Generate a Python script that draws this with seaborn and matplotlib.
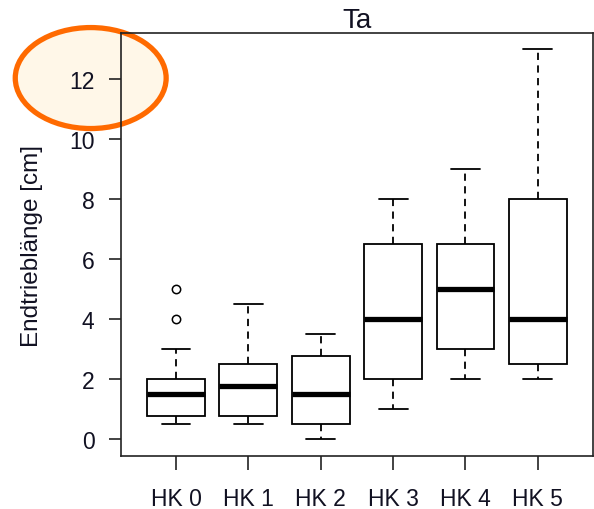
import seaborn as sns
import matplotlib.pyplot as plt
import numpy as np
import pandas as pd
from matplotlib.patches import Ellipse

hk0 = [0.5, 0.5, 0.75, 0.75, 1, 1.5, 1.5, 1.5, 2, 2, 3, 4, 5]
hk1 = [0.5, 0.75, 0.75, 1.5, 1.75, 2, 2.5, 3, 4.5]
hk2 = [0, 0.5, 0.5, 1, 1.5, 2, 2.75, 3, 3.5]
hk3 = [1, 2, 2, 3, 4, 5, 6.5, 7, 8]
hk4 = [2, 3, 3, 4, 5, 6, 6.5, 8, 9]
hk5 = [2, 2.5, 2.5, 3, 4, 6, 8, 10, 13]

groups = ["HK 0", "HK 1", "HK 2", "HK 3", "HK 4", "HK 5"]
y_ticks = [0, 2, 4, 6, 8, 10, 12]

# long table for seaborn
rows = []
for g, vals in zip(groups, [hk0, hk1, hk2, hk3, hk4, hk5]):
    for v in vals:
        rows.append({"HK": g, "len": v})
df = pd.DataFrame(rows)

sns.set_style("ticks")
plt.rcParams['font.family'] = ['Liberation Sans', 'DejaVu Sans']
plt.rcParams['text.color'] = "#111122"
plt.rcParams['xtick.color'] = "#222222"
plt.rcParams['ytick.color'] = "#222222"
plt.rcParams['xtick.labelcolor'] = "#111122"
plt.rcParams['ytick.labelcolor'] = "#111122"
plt.rcParams['axes.labelcolor'] = "#111122"

fig = plt.figure(figsize=(5.94, 5.1), dpi=100)
ax = fig.add_axes([0.2037, 0.1039, 0.7943, 0.8294])
ax.set_facecolor("none")

sns.boxplot(data=df, x="HK", y="len", order=groups, ax=ax,
            color="white", linecolor="black", linewidth=1.3, width=0.8, whis=1.5,
            whiskerprops={"linestyle": (0, (4, 3))},
            medianprops={"linewidth": 3.8, "color": "black"},
            flierprops={"marker": "o", "markersize": 6, "markerfacecolor": "none",
                        "markeredgecolor": "black", "markeredgewidth": 1.1})

ax.set_xlim(-0.76, 5.76)
ax.set_ylim(-0.57, 13.53)
ax.set_yticks(y_ticks)
ax.set_yticklabels([str(t) for t in y_ticks])
ax.set_xlabel("")
ax.set_ylabel("Endtrieblänge [cm]", fontsize=17.5)
ax.yaxis.set_label_coords(-0.165, 0.5)
ax.set_title("Ta", fontsize=20, pad=4)

for s in ax.spines.values():
    s.set_visible(True)
    s.set_linewidth(1.2)
    s.set_color("#222222")

ax.tick_params(axis="y", length=9, width=1.2, pad=10, labelsize=16.5)
ax.tick_params(axis="x", length=10, width=1.2, pad=12, labelsize=16.5)

# highlight circle round the top tick label
ell = Ellipse((0.1527, 0.845), 0.254, 0.198, transform=fig.transFigure,
              facecolor="#FFF7E8", edgecolor="#FF6A00", linewidth=3.8, zorder=-1)
fig.add_artist(ell)

plt.savefig("out.png", dpi=100)
